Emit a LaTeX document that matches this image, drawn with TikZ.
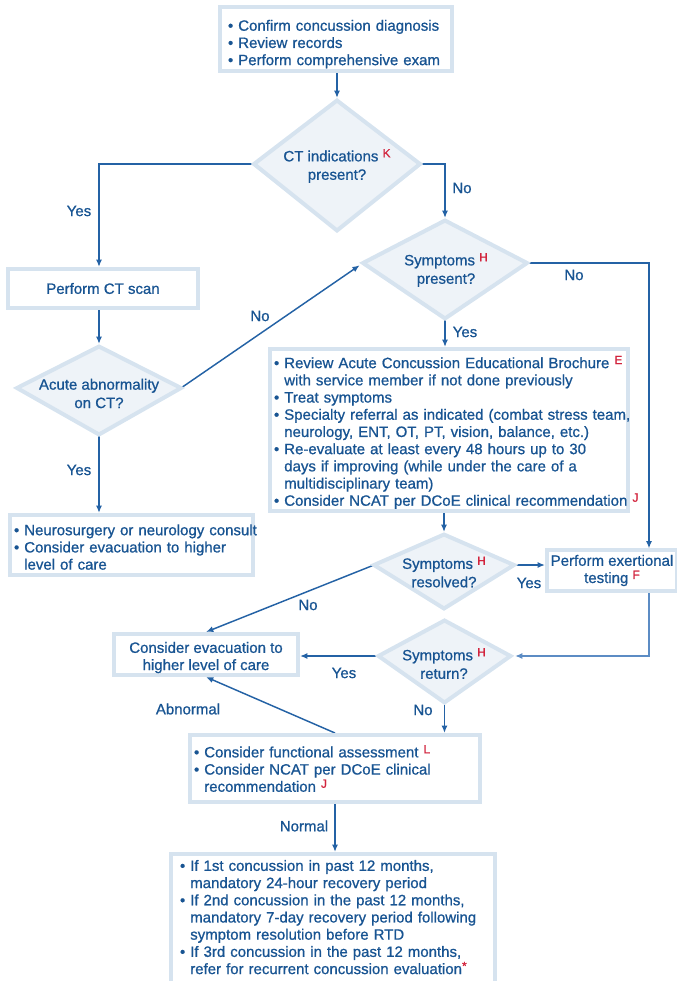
\documentclass[tikz,border=0pt]{standalone}
\usepackage{fontspec}
\setmainfont[FakeBold=0.8]{Liberation Sans}
\usetikzlibrary{arrows.meta}
\definecolor{tblue}{RGB}{24,84,146}
\definecolor{lblue}{RGB}{36,98,165}
\definecolor{lblue2}{RGB}{92,140,196}
\definecolor{bord}{RGB}{214,227,239}
\definecolor{dfill}{RGB}{238,243,248}
\definecolor{refred}{RGB}{210,35,60}
\newdimen\PX \PX=0.75pt
\pgfdeclarelayer{bg}\pgfsetlayers{bg,main}
\newcommand{\rf}[1]{\raisebox{4\PX}{\fontsize{9pt}{9pt}\selectfont\textcolor{refred}{#1}}}
\newcommand{\li}[1]{\mbox{\textbullet\ #1}}
\newcommand{\lc}[1]{\mbox{\phantom{\textbullet\ }#1}}
\newcommand{\tup}[1]{\rule{0pt}{#1\PX}}
\newcommand{\mkdiam}[6]{%
  \coordinate (#1t) at (#2,#3);
  \coordinate (#1b) at (#2,#5);
  \coordinate (#1l) at ({#2-#6},#4);
  \coordinate (#1r) at ({#2+#6},#4);
  \draw[diam] (#1t) -- (#1r) -- (#1b) -- (#1l) -- cycle;}
\begin{document}
\begin{tikzpicture}[x=0.75pt,y=-0.75pt,
  txtfont/.style={font=\fontsize{11.25pt}{12.9pt}\selectfont, text=tblue},
  box/.style={txtfont, draw=bord, line width=3pt, fill=white},
  lbox/.style={box, align=left},
  cbox/.style={box, align=center, inner xsep=2\PX},
  diam/.style={draw=bord, line width=3pt, fill=dfill, line join=miter},
  dtxt/.style={font=\fontsize{11.25pt}{13.8pt}\selectfont, text=tblue, align=center, inner sep=0pt},
  lab/.style={txtfont, inner sep=0pt},
  conn/.style={draw=lblue, line width=1.1pt, -{Latex[length=5.5pt,width=4.5pt]}},
  conn2/.style={conn, draw=lblue2}]
\useasboundingbox (0,0) rectangle (677,981);

% boxes
\node[lbox, minimum width=232\PX, minimum height=64\PX, text width=216\PX, inner xsep=8\PX, inner ysep=1pt] (top) at (336,39)
  {\li{\tup{21}Confirm concussion diagnosis}\\\li{Review records}\\\li{Perform comprehensive exam}};
\node[cbox, minimum width=190\PX, minimum height=39\PX] (ct) at (103,288.5) {Perform CT scan};
\node[lbox, minimum width=243\PX, minimum height=60\PX, text width=235\PX, inner xsep=4\PX, inner ysep=1pt] (neuro) at (131.5,545)
  {\li{\tup{15}Neurosurgery or neurology consult}\\\li{Consider evacuation to higher}\\\lc{level of care}};
\node[lbox, minimum width=358\PX, minimum height=162\PX, text width=350\PX, inner xsep=4\PX, inner ysep=1pt] (big) at (449,430)
  {\li{\tup{17}Review Acute Concussion Educational Brochure \rf{E}}\\
   \lc{with service member if not done previously}\\
   \li{Treat symptoms}\\
   \li{Specialty referral as indicated (combat stress team,}\\
   \lc{neurology, ENT, OT, PT, vision, balance, etc.)}\\
   \li{Re-evaluate at least every 48 hours up to 30}\\
   \lc{days if improving (while under the care of a}\\
   \lc{multidisciplinary team)}\\
   \li{Consider NCAT per DCoE clinical recommendation \rf{J}}};
\node[cbox, minimum width=130\PX, minimum height=39\PX] (exert) at (612,570.5) {Perform exertional\\testing \rf{F}};
\node[cbox, minimum width=184\PX, minimum height=41\PX, inner ysep=1pt] (evac) at (206,654.5) {\tup{17}Consider evacuation to\\higher level of care};
\node[lbox, minimum width=290\PX, minimum height=67\PX, text width=282\PX, inner xsep=4\PX] (func) at (335,768.5)
  {\li{Consider functional assessment \rf{L}}\\\li{Consider NCAT per DCoE clinical}\\\lc{recommendation \rf{J}}};
\node[lbox, anchor=north, minimum width=324\PX, text width=306\PX, inner xsep=9\PX, inner ysep=6\PX] (final) at (333,852)
  {\li{If 1st concussion in past 12 months,}\\
   \lc{mandatory 24-hour recovery period}\\
   \li{If 2nd concussion in the past 12 months,}\\
   \lc{mandatory 7-day recovery period following}\\
   \lc{symptom resolution before RTD}\\
   \li{If 3rd concussion in the past 12 months,}\\
   \lc{refer for recurrent concussion evaluation\rf{*}\rule[-14\PX]{0pt}{0pt}}};

% diamonds
\mkdiam{d1}{337}{100.5}{164}{230.5}{83}
\mkdiam{d2}{445}{220.5}{263}{318.5}{82}
\mkdiam{d3}{99}{346.5}{388}{434.5}{82}
\mkdiam{d4}{444}{534.5}{565}{608.5}{70}
\mkdiam{d5}{444.5}{620.5}{656}{702.5}{66}
\node[dtxt] (t1) at (337,166) {CT indications \rf{K}\\present?};
\node[dtxt] (t2) at (446,270) {Symptoms \rf{H}\\present?};
\node[dtxt] (t3) at (99,393.5) {Acute abnormality\\on CT?};
\node[dtxt] (t4) at (444,572) {Symptoms \rf{H}\\resolved?};
\node[dtxt] (t5) at (444,663.5) {Symptoms \rf{H}\\return?};

% labels
\node[lab] (l1) at (79,211) {Yes};
\node[lab] (l2) at (462,188) {No};
\node[lab] (l3) at (574,275) {No};
\node[lab] (l4) at (260,316) {No};
\node[lab] (l5) at (465,332) {Yes};
\node[lab] (l6) at (79,470) {Yes};
\node[lab] (l7) at (529,583) {Yes};
\node[lab] (l8) at (308,605) {No};
\node[lab] (l9) at (344,673) {Yes};
\node[lab] (l10) at (423,710) {No};
\node[lab] (l11) at (188,709) {Abnormal};
\node[lab] (l12) at (304,826) {Normal};

% connectors
\begin{pgfonlayer}{bg}
\draw[conn, shorten >=2.5\PX] (top.south -| d1t) -- (d1t);
\draw[conn] (d1l) -| (ct.north -| d3t);
\draw[conn, shorten >=2.5\PX] (d1r) -| (d2t);
\draw[conn, shorten >=2.5\PX] (ct.south -| d3t) -- (d3t);
\draw[conn, shorten >=4\PX] (d3r) -- (d2l);
\draw[conn] (d3b) -- (neuro.north -| d3b);
\draw[conn] (d2b) -- (d2b |- big.north);
\draw[conn] (d2r) -| ([xshift=37\PX]exert.north);
\draw[conn, shorten >=2.5\PX] (big.south -| d4t) -- (d4t);
\draw[conn] (d4r) -- (d4r -| exert.west);
\draw[conn] (d4l) -- (evac.north);
\draw[conn2, shorten >=4.5\PX] ([xshift=37\PX]exert.south) |- (d5r);
\draw[conn] (d5l) -- (d5l -| evac.east);
\draw[conn] (d5b) -- (d5b |- func.north);
\draw[conn] (func.north) -- (evac.south);
\draw[conn] (func.south) -- (func.south |- final.north);
\end{pgfonlayer}
\end{tikzpicture}
\end{document}
